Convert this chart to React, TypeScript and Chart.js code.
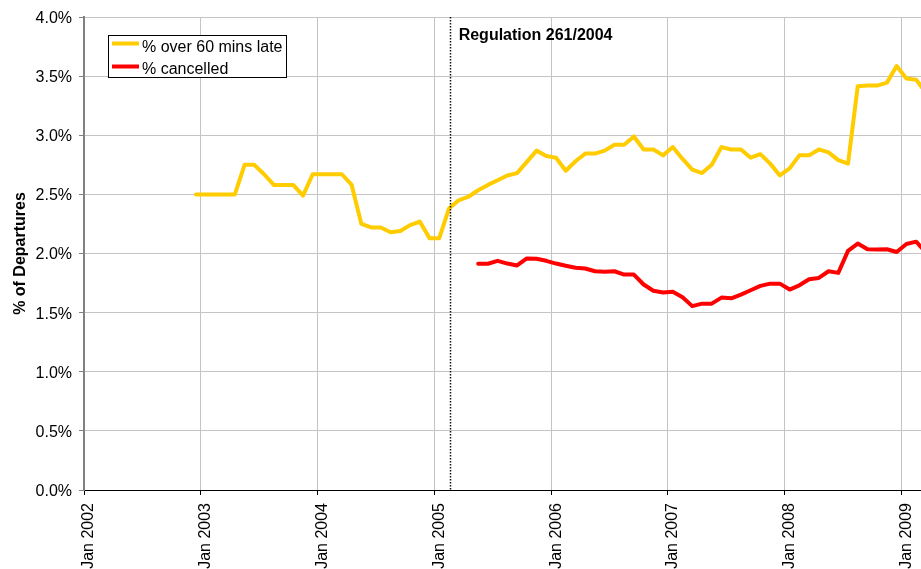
import React, { useEffect, useRef } from 'react';
import { Chart, registerables } from 'chart.js';

Chart.register(...registerables);

// ---- data ----
const MONTH_NAMES = ['Jan', 'Feb', 'Mar', 'Apr', 'May', 'Jun', 'Jul', 'Aug', 'Sep', 'Oct', 'Nov', 'Dec'];
const AXIS_START = 'Jan 2002';
const AXIS_END = 'Mar 2009';
const yearTickLabels = ['Jan 2002', 'Jan 2003', 'Jan 2004', 'Jan 2005', 'Jan 2006', 'Jan 2007', 'Jan 2008', 'Jan 2009'];

const lateLabel = '% over 60 mins late';
const lateStart = 'Dec 2002';
const lateValues = [
  2.5,
  2.5, 2.5, 2.5, 2.5, 2.75, 2.75, 2.67, 2.58, 2.58, 2.58, 2.49, 2.67,
  2.67, 2.67, 2.67, 2.58, 2.25, 2.22, 2.22, 2.18, 2.19, 2.24, 2.27, 2.13,
  2.13, 2.38, 2.45, 2.48, 2.535, 2.58, 2.62, 2.66, 2.68, 2.775, 2.87, 2.825,
  2.81, 2.7, 2.78, 2.845, 2.845, 2.87, 2.92, 2.92, 2.99, 2.88, 2.88, 2.83,
  2.9, 2.8, 2.71, 2.68, 2.75, 2.9, 2.88, 2.88, 2.81, 2.84, 2.76, 2.66,
  2.72, 2.83, 2.83, 2.88, 2.855, 2.79, 2.76, 3.415, 3.42, 3.42, 3.445, 3.585,
  3.48, 3.47, 3.36,
];

const cancelledLabel = '% cancelled';
const cancelledStart = 'May 2005';
const cancelledValues = [
  1.913, 1.913, 1.938, 1.915, 1.899, 1.958, 1.955, 1.938,
  1.915, 1.896, 1.879, 1.873, 1.85, 1.845, 1.85, 1.822, 1.822, 1.738, 1.685, 1.67,
  1.677, 1.63, 1.555, 1.576, 1.576, 1.627, 1.621, 1.652, 1.689, 1.726, 1.745, 1.745,
  1.695, 1.731, 1.782, 1.793, 1.85, 1.836, 2.022, 2.084, 2.036, 2.033, 2.036, 2.013,
  2.08, 2.1, 2.01,
];

const regulationLabel = 'Regulation 261/2004';
const regulationDate = { month: 'Feb 2005', day: 17 };

const yMin = 0;
const yMax = 4;
const yStep = 0.5;

// ---- helpers ----
function monthIndex(label: string): number {
  const [m, y] = label.split(' ');
  const [m0, y0] = AXIS_START.split(' ');
  return (Number(y) - Number(y0)) * 12 + MONTH_NAMES.indexOf(m) - MONTH_NAMES.indexOf(m0);
}

function seriesPoints(start: string, values: number[]) {
  const s = monthIndex(start);
  // each monthly value sits at the middle of its month
  return values.map((v, i) => ({ x: s + i + 0.5, y: v }));
}

const FONT = "'Liberation Sans', Arial, Helvetica, sans-serif";
const LATE_COLOR = '#FFCC00';
const CANCEL_COLOR = '#FF0000';

const overlayPlugin = {
  id: 'overlay',
  afterDatasetsDraw(chart: any) {
    const { ctx, chartArea, scales } = chart;
    const xs = scales.x;
    // regulation line
    const regX = xs.getPixelForValue(monthIndex(regulationDate.month) + (regulationDate.day - 1) / 28);
    ctx.save();
    ctx.strokeStyle = '#111';
    ctx.lineWidth = 1.5;
    ctx.setLineDash([1.5, 1.5]);
    ctx.beginPath();
    ctx.moveTo(Math.round(regX) + 0.5, chartArea.top);
    ctx.lineTo(Math.round(regX) + 0.5, chartArea.bottom);
    ctx.stroke();
    ctx.setLineDash([]);
    ctx.fillStyle = '#000';
    ctx.font = `bold 16px ${FONT}`;
    ctx.textBaseline = 'alphabetic';
    ctx.textAlign = 'left';
    ctx.fillText(regulationLabel, regX + 9, 40);

    // legend
    const bx = 108.5, by = 35.5, bw = 178, bh = 42;
    ctx.fillStyle = '#fff';
    ctx.fillRect(bx, by, bw, bh);
    ctx.strokeStyle = '#000';
    ctx.lineWidth = 1;
    ctx.strokeRect(bx, by, bw, bh);
    const items = chart.data.datasets.map((d: any) => ({ label: d.label, color: d.borderColor }));
    const rows = [{ ly: 43.5, ty: 51.5 }, { ly: 66.5, ty: 73.5 }];
    items.forEach((it: any, i: number) => {
      const r = rows[i];
      ctx.strokeStyle = it.color;
      ctx.lineWidth = 4;
      ctx.lineCap = 'butt';
      ctx.beginPath();
      ctx.moveTo(112, r.ly);
      ctx.lineTo(139, r.ly);
      ctx.stroke();
      ctx.fillStyle = '#000';
      ctx.font = `16px ${FONT}`;
      ctx.fillText(it.label, 142, r.ty);
    });
    ctx.restore();
  },
};

export default function App() {
  const canvasRef = useRef<HTMLCanvasElement | null>(null);

  useEffect(() => {
    if (!canvasRef.current) return;
    Chart.defaults.font.family = FONT;
    Chart.defaults.font.size = 16;
    Chart.defaults.color = '#000';

    const chart = new Chart(canvasRef.current, {
      type: 'line',
      data: {
        datasets: [
          {
            label: lateLabel,
            data: seriesPoints(lateStart, lateValues),
            borderColor: LATE_COLOR,
            backgroundColor: LATE_COLOR,
            borderWidth: 4,
            pointRadius: 0,
            tension: 0,
            borderJoinStyle: 'round',
            borderCapStyle: 'round',
          },
          {
            label: cancelledLabel,
            data: seriesPoints(cancelledStart, cancelledValues),
            borderColor: CANCEL_COLOR,
            backgroundColor: CANCEL_COLOR,
            borderWidth: 4,
            pointRadius: 0,
            tension: 0,
            borderJoinStyle: 'round',
            borderCapStyle: 'round',
          },
        ],
      },
      options: {
        animation: false,
        responsive: false,
        devicePixelRatio: 1,
        layout: { padding: { top: 17, right: 0, bottom: 0, left: 0 } },
        plugins: {
          legend: { display: false },
          tooltip: { enabled: false },
        },
        scales: {
          x: {
            type: 'linear',
            min: monthIndex(AXIS_START),
            max: monthIndex(AXIS_END),
            afterBuildTicks: (scale: any) => {
              scale.ticks = scale.ticks.filter((t: any) => t.value % 12 === 0);
            },
            afterFit: (scale: any) => {
              scale.height = 79;
              scale.paddingLeft = 0;
              scale.paddingRight = 0;
            },
            ticks: {
              stepSize: 12,
              autoSkip: false,
              minRotation: 90,
              maxRotation: 90,
              padding: 8,
              labelOffset: 5,
              font: { size: 16 },
              color: '#000',
              callback: (v: any) => yearTickLabels[Math.round(Number(v) / 12)] ?? '',
            },
            grid: {
              color: '#c4c4c4',
              lineWidth: 1,
              tickColor: '#000',
              tickLength: 5,
            },
            border: { color: '#000', width: 1 },
          },
          y: {
            min: yMin,
            max: yMax,
            afterFit: (scale: any) => {
              scale.width = 84;
              scale.paddingTop = 0;
              scale.paddingBottom = 0;
            },
            ticks: {
              stepSize: yStep,
              padding: 7,
              labelOffset: 1.5,
              font: { size: 16 },
              color: '#000',
              callback: (v: any) => Number(v).toFixed(1) + '%',
            },
            grid: {
              color: '#c4c4c4',
              lineWidth: 1,
              tickColor: '#808080',
              tickLength: 5,
            },
            border: { color: '#808080', width: 2 },
            title: {
              display: true,
              text: '% of Departures',
              font: { size: 16, weight: 'bold' },
              color: '#000',
              padding: { top: 11, bottom: 0 },
            },
          },
        },
      },
      plugins: [overlayPlugin],
    } as any);

    return () => chart.destroy();
  }, []);

  return (
    <div style={{ position: 'absolute', left: 0, top: 0, width: 921, height: 569, background: '#fff' }}>
      <canvas ref={canvasRef} width={921} height={569} style={{ display: 'block' }} />
    </div>
  );
}
